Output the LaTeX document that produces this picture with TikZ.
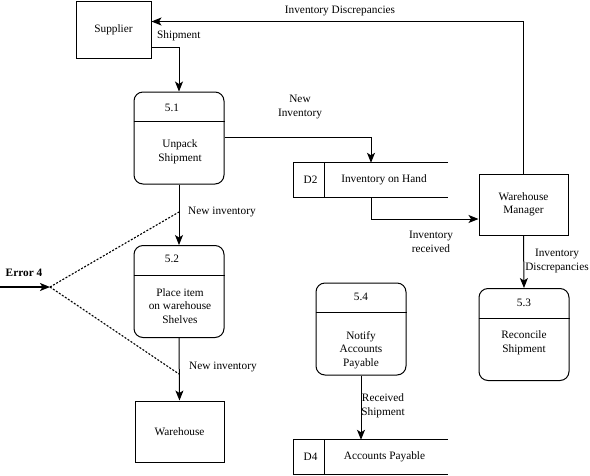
\documentclass[tikz,border=0pt]{standalone}
\usepackage{fontspec}
\setmainfont{Liberation Serif}
\usetikzlibrary{arrows.meta,calc}

\tikzset{
  flow/.style={-{Stealth[length=10pt,width=8pt,inset=2.5pt]}, line width=1pt},
  entity/.style={draw, line width=1pt, align=center},
  proc/.style={draw, line width=1pt, rounded corners=9pt, minimum width=90pt, minimum height=92pt},
  store/.style={minimum width=154pt, minimum height=34pt},
  lbl/.style={align=center, inner sep=0pt}
}

\begin{document}
\begin{tikzpicture}[x=1pt, y=-1pt, font=\fontsize{11.3}{13.5}\selectfont]
  \useasboundingbox (0,0) rectangle (590,475);

  \begin{scope}[every node/.style={entity}]
    \node[minimum width=75pt, minimum height=57pt] (sup) at (113.5,29.5) {Supplier} ;
    \node[minimum width=89pt, minimum height=61pt] (wm) at (523.5,204.5) {Warehouse\\Manager} ;
    \node[minimum width=89pt, minimum height=61pt] (house) at (179.5,431.5) {Warehouse} ;
  \end{scope}

  \node[proc] (p51) at (179,138) {} ;
  \node[proc] (p52) at (179,291.5) {} ;
  \node[proc] (p53) at (524,334.5) {} ;
  \node[proc] (p54) at (361,329) {} ;
  \node[store] (d2) at (371,180) {} ;
  \node[store] (d4) at (371,457) {} ;

  \begin{scope}[every node/.style={lbl}]
    \node (n51) at (172,108) {5.1} ;
    \node (t51) at (180,152) {Unpack\\Shipment} ;
    \node (n52) at (172,259) {5.2} ;
    \node (t52) at (180,306) {Place item\\on warehouse\\Shelves} ;
    \node (n53) at (524,303) {5.3} ;
    \node (t53) at (524,343) {Reconcile\\Shipment} ;
    \node (n54) at (361,297) {5.4} ;
    \node (t54) at (361,350) {Notify\\Accounts\\Payable} ;
    \node (nd2) at (310.5,180) {D2} ;
    \node (td2) at (384,180) {Inventory on Hand} ;
    \node (nd4) at (310.5,457) {D4} ;
    \node (td4) at (384.5,457) {Accounts Payable} ;
  \end{scope}

  % dividers and store outlines
  \begin{scope}[line width=1pt]
    \draw ($(p51.north west)+(0,30)$) -- ($(p51.north east)+(0,30)$);
    \draw ($(p52.north west)+(0,30)$) -- ($(p52.north east)+(0,30)$);
    \draw ($(p53.north west)+(0,30)$) -- ($(p53.north east)+(0,30)$);
    \draw ($(p54.north west)+(0,30)$) -- ($(p54.north east)+(0,30)$);
    \draw (d2.north east) -- (d2.north west) -- (d2.south west) -- (d2.south east);
    \draw ($(d2.north west)+(31,0)$) -- ($(d2.south west)+(31,0)$);
    \draw (d4.north east) -- (d4.north west) -- (d4.south west) -- (d4.south east);
    \draw ($(d4.north west)+(31,0)$) -- ($(d4.south west)+(31,0)$);
  \end{scope}

  % flow labels
  \begin{scope}[every node/.style={lbl}]
    \node (lship) at (157,36) [anchor=west] {Shipment} ;
    \node (ldisc) at (340,11) {Inventory Discrepancies} ;
    \node (lnew) at (300,107) {New\\Inventory} ;
    \node (lrecv) at (431,242) {Inventory\\received} ;
    \node (ldisc2) at (557,261) {Inventory\\Discrepancies} ;
    \node (lnew1) at (188,212) [anchor=west] {New inventory} ;
    \node (lnew2) at (189,367) [anchor=west] {New inventory} ;
    \node (lrs) at (383,406) {Received\\Shipment} ;
    \node (lerr) at (24,273) {\bfseries Error 4} ;
  \end{scope}

  \coordinate (start) at (0,287);
  \coordinate (err) at (50,287);
  \coordinate (hit1) at (179,212);
  \coordinate (hit2) at (179,374);

  \begin{scope}[flow]
    \draw ($(sup.south east)+(0,-11)$) -| (p51.north);
    \draw (wm.north) |- ($(sup.north east)+(0,21)$);
    \draw ($(p51.north east)+(0,46)$) -| (d2.north);
    \draw (d2.south) |- ($(wm.west)+(0,14.5)$);
    \draw (wm.south) to (p53.north);
    \draw (p51.south) to (p52.north);
    \draw (p52.south) to (house.north);
    \draw (p54.south) to (p54.south |- d4.north);
    \draw[line width=1.4pt] (start) to (err);
  \end{scope}

  \begin{scope}[dash pattern=on 2pt off 1.6pt, line width=1.1pt]
    \draw (err) to (hit1);
    \draw (err) to (hit2);
  \end{scope}
\end{tikzpicture}
\end{document}
